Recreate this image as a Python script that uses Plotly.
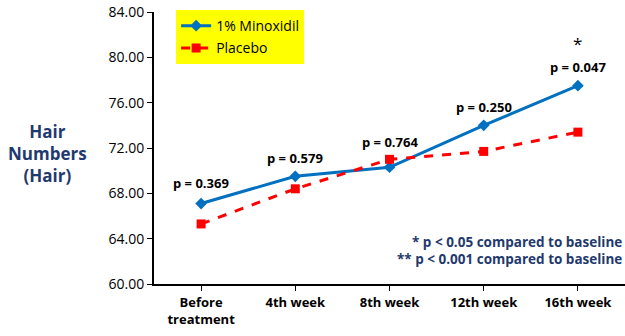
import plotly.graph_objects as go

categories = ["Before<br>treatment", "4th week", "8th week", "12th week", "16th week"]
minoxidil = [67.1, 69.5, 70.3, 74.0, 77.5]
placebo = [65.3, 68.4, 71.0, 71.7, 73.4]
p_labels = ["p = 0.369", "p = 0.579", "p = 0.764", "p = 0.250", "p = 0.047"]
p_label_y = [68.9, 71.1, 72.5, 75.6, 79.15]
y_ticks = [60, 64, 68, 72, 76, 80, 84]

FONT = "Open Sans"
DARK_BLUE = "#1F3A6E"

fig = go.Figure()
fig.add_trace(go.Scatter(
    x=categories, y=minoxidil, name="1% Minoxidil", mode="lines+markers",
    legendgroup="a",
    line=dict(color="#0070C0", width=3),
    marker=dict(symbol="diamond", size=9, color="#0070C0"),
))
fig.add_trace(go.Scatter(
    x=categories, y=placebo, name="Placebo", mode="lines+markers",
    legendgroup="b",
    line=dict(color="#FF0000", width=3, dash="dash"),
    marker=dict(symbol="square", size=9, color="#FF0000"),
))

for c, t, yv in zip(categories, p_labels, p_label_y):
    fig.add_annotation(x=c, y=yv, text="<b>" + t + "</b>", showarrow=False,
                       font=dict(size=13, color="black", family=FONT))
fig.add_annotation(x=categories[-1], y=81.2, text="*", showarrow=False,
                   font=dict(size=17, color="black", family=FONT))

fig.add_annotation(xref="paper", yref="paper", x=0.998, y=0.154, xanchor="right",
                   yanchor="middle",
                   text="<b>* p &lt; 0.05 compared to baseline</b>", showarrow=False,
                   font=dict(size=13.5, color=DARK_BLUE, family=FONT), align="left")
fig.add_annotation(xref="paper", yref="paper", x=0.998, y=0.092, xanchor="right",
                   yanchor="middle",
                   text="<b>** p &lt; 0.001 compared to baseline</b>", showarrow=False,
                   font=dict(size=13.5, color=DARK_BLUE, family=FONT), align="left")

fig.add_annotation(xref="paper", yref="paper", x=-0.227, y=0.48, xanchor="center",
                   yanchor="middle",
                   text="<b>Hair<br>Numbers<br>(Hair)</b>", showarrow=False,
                   font=dict(size=17, color=DARK_BLUE, family=FONT))

fig.update_layout(
    width=625, height=336,
    margin=dict(l=154, r=0, t=12, b=52, autoexpand=False),
    plot_bgcolor="white", paper_bgcolor="white",
    font=dict(family=FONT, color="black"),
    legend=dict(x=0.047, y=1.007, xanchor="left", yanchor="top",
                bgcolor="#FFFF00", font=dict(size=14, color="black", family=FONT),
                itemwidth=30, tracegroupgap=1),
    showlegend=True,
)
fig.update_xaxes(
    range=[-0.5, 4.5], showline=True, linecolor="black", linewidth=2,
    ticks="outside", ticklen=5, tickcolor="black", showgrid=False, automargin=False,
    tickfont=dict(size=13, color="black", family=FONT),
    tickprefix="<b>", ticksuffix="</b>",
)
fig.update_yaxes(
    range=[60, 84], tickvals=y_ticks, tickformat=".2f", showline=True,
    linecolor="black", linewidth=2, ticks="outside", ticklen=5, tickcolor="black",
    showgrid=False, zeroline=False, automargin=False,
    tickfont=dict(size=14, color="black", family=FONT),
    tickprefix="<b>", ticksuffix="</b>",
)

fig.write_html("out.html", config={"displayModeBar": False},
               post_script="document.body.style.margin='0';")
